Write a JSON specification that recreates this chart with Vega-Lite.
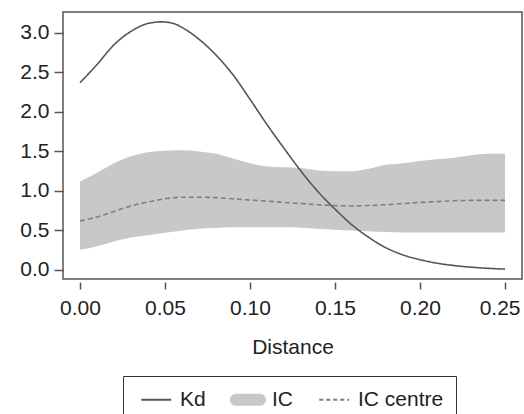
{
  "$schema": "https://vega.github.io/schema/vega-lite/v6.json",
  "width": 459,
  "height": 267,
  "autosize": "none",
  "padding": {"left": 63, "top": 12, "right": 2, "bottom": 135},
  "config": {
    "view": {"stroke": "#555555", "strokeWidth": 1.5},
    "font": "Liberation Sans",
    "axis": {"labelFont": "Liberation Sans", "titleFont": "Liberation Sans", "labelFontSize": 21, "titleFontSize": 21, "titleFontWeight": "normal", "labelColor": "#222222", "titleColor": "#222222", "tickColor": "#555555", "tickWidth": 1.5, "domain": false, "grid": false}
  },
  "datasets": {
    "band": [
      {"d": 0.00, "lo": 0.255, "hi": 1.12, "series": "IC"},
      {"d": 0.01, "lo": 0.30, "hi": 1.23, "series": "IC"},
      {"d": 0.02, "lo": 0.36, "hi": 1.35, "series": "IC"},
      {"d": 0.03, "lo": 0.41, "hi": 1.44, "series": "IC"},
      {"d": 0.04, "lo": 0.44, "hi": 1.49, "series": "IC"},
      {"d": 0.05, "lo": 0.47, "hi": 1.51, "series": "IC"},
      {"d": 0.06, "lo": 0.50, "hi": 1.515, "series": "IC"},
      {"d": 0.07, "lo": 0.52, "hi": 1.50, "series": "IC"},
      {"d": 0.08, "lo": 0.53, "hi": 1.47, "series": "IC"},
      {"d": 0.09, "lo": 0.54, "hi": 1.41, "series": "IC"},
      {"d": 0.10, "lo": 0.54, "hi": 1.35, "series": "IC"},
      {"d": 0.11, "lo": 0.54, "hi": 1.31, "series": "IC"},
      {"d": 0.12, "lo": 0.54, "hi": 1.30, "series": "IC"},
      {"d": 0.13, "lo": 0.535, "hi": 1.29, "series": "IC"},
      {"d": 0.14, "lo": 0.52, "hi": 1.26, "series": "IC"},
      {"d": 0.15, "lo": 0.51, "hi": 1.25, "series": "IC"},
      {"d": 0.16, "lo": 0.50, "hi": 1.25, "series": "IC"},
      {"d": 0.17, "lo": 0.49, "hi": 1.28, "series": "IC"},
      {"d": 0.18, "lo": 0.48, "hi": 1.33, "series": "IC"},
      {"d": 0.19, "lo": 0.475, "hi": 1.35, "series": "IC"},
      {"d": 0.20, "lo": 0.475, "hi": 1.38, "series": "IC"},
      {"d": 0.21, "lo": 0.475, "hi": 1.40, "series": "IC"},
      {"d": 0.22, "lo": 0.475, "hi": 1.42, "series": "IC"},
      {"d": 0.23, "lo": 0.475, "hi": 1.45, "series": "IC"},
      {"d": 0.24, "lo": 0.475, "hi": 1.47, "series": "IC"},
      {"d": 0.25, "lo": 0.475, "hi": 1.47, "series": "IC"}
    ],
    "lines": [
      {"d": 0.000, "value": 2.37, "series": "Kd"},
      {"d": 0.010, "value": 2.60, "series": "Kd"},
      {"d": 0.020, "value": 2.85, "series": "Kd"},
      {"d": 0.030, "value": 3.02, "series": "Kd"},
      {"d": 0.040, "value": 3.12, "series": "Kd"},
      {"d": 0.048, "value": 3.14, "series": "Kd"},
      {"d": 0.055, "value": 3.12, "series": "Kd"},
      {"d": 0.060, "value": 3.07, "series": "Kd"},
      {"d": 0.070, "value": 2.92, "series": "Kd"},
      {"d": 0.080, "value": 2.72, "series": "Kd"},
      {"d": 0.090, "value": 2.47, "series": "Kd"},
      {"d": 0.100, "value": 2.16, "series": "Kd"},
      {"d": 0.110, "value": 1.84, "series": "Kd"},
      {"d": 0.120, "value": 1.54, "series": "Kd"},
      {"d": 0.130, "value": 1.25, "series": "Kd"},
      {"d": 0.140, "value": 0.99, "series": "Kd"},
      {"d": 0.150, "value": 0.77, "series": "Kd"},
      {"d": 0.160, "value": 0.57, "series": "Kd"},
      {"d": 0.170, "value": 0.41, "series": "Kd"},
      {"d": 0.180, "value": 0.28, "series": "Kd"},
      {"d": 0.190, "value": 0.19, "series": "Kd"},
      {"d": 0.200, "value": 0.13, "series": "Kd"},
      {"d": 0.210, "value": 0.085, "series": "Kd"},
      {"d": 0.220, "value": 0.055, "series": "Kd"},
      {"d": 0.230, "value": 0.035, "series": "Kd"},
      {"d": 0.240, "value": 0.02, "series": "Kd"},
      {"d": 0.250, "value": 0.01, "series": "Kd"},
      {"d": 0.00, "value": 0.62, "series": "IC centre"},
      {"d": 0.01, "value": 0.67, "series": "IC centre"},
      {"d": 0.02, "value": 0.74, "series": "IC centre"},
      {"d": 0.03, "value": 0.81, "series": "IC centre"},
      {"d": 0.04, "value": 0.86, "series": "IC centre"},
      {"d": 0.05, "value": 0.90, "series": "IC centre"},
      {"d": 0.06, "value": 0.92, "series": "IC centre"},
      {"d": 0.07, "value": 0.92, "series": "IC centre"},
      {"d": 0.08, "value": 0.915, "series": "IC centre"},
      {"d": 0.09, "value": 0.90, "series": "IC centre"},
      {"d": 0.10, "value": 0.885, "series": "IC centre"},
      {"d": 0.11, "value": 0.87, "series": "IC centre"},
      {"d": 0.12, "value": 0.855, "series": "IC centre"},
      {"d": 0.13, "value": 0.84, "series": "IC centre"},
      {"d": 0.14, "value": 0.825, "series": "IC centre"},
      {"d": 0.15, "value": 0.815, "series": "IC centre"},
      {"d": 0.16, "value": 0.81, "series": "IC centre"},
      {"d": 0.17, "value": 0.815, "series": "IC centre"},
      {"d": 0.18, "value": 0.825, "series": "IC centre"},
      {"d": 0.19, "value": 0.84, "series": "IC centre"},
      {"d": 0.20, "value": 0.855, "series": "IC centre"},
      {"d": 0.21, "value": 0.865, "series": "IC centre"},
      {"d": 0.22, "value": 0.875, "series": "IC centre"},
      {"d": 0.23, "value": 0.88, "series": "IC centre"},
      {"d": 0.24, "value": 0.88, "series": "IC centre"},
      {"d": 0.25, "value": 0.88, "series": "IC centre"}
    ]
  },
  "encoding": {
    "x": {"field": "d", "type": "quantitative", "scale": {"domain": [-0.01, 0.26], "nice": false, "zero": false},
          "axis": {"values": [0, 0.05, 0.1, 0.15, 0.2, 0.25], "format": ".2f", "tickSize": 7, "offset": 3, "labelPadding": 8,
                   "labelAlign": {"condition": {"test": "datum.value > 0.24", "value": "right"}, "value": "center"},
                   "labelOffset": {"condition": {"test": "datum.value > 0.24", "value": 15}, "value": 0},
                   "title": "Distance", "titlePadding": 18}},
    "color": {"field": "series", "type": "nominal",
      "scale": {"domain": ["Kd", "IC", "IC centre"], "range": ["#555555", "#c8c8c8", "#808080"]},
      "legend": {
        "orient": "none", "legendX": 60, "legendY": 364, "direction": "horizontal", "title": null,
        "strokeColor": "#333333", "padding": 12,
        "labelFont": "Liberation Sans", "labelFontSize": 21, "labelColor": "#222222",
        "symbolType": "stroke", "symbolSize": 441, "symbolStrokeWidth": 2, "labelOffset": 22, "columnPadding": 20,
        "encode": {
          "symbols": {
            "update": {
              "shape": {"signal": "datum.value === 'IC' ? 'M-0.24,-0.48L2.04,-0.48A0.48,0.48,0,0,1,2.04,0.48L-0.24,0.48A0.48,0.48,0,0,1,-0.24,-0.48Z' : 'M-0.5,0L2.35,0'"},
              "fill": {"signal": "datum.value === 'IC' ? '#c8c8c8' : 'transparent'"},
              "stroke": {"signal": "datum.value === 'Kd' ? '#555555' : (datum.value === 'IC centre' ? '#808080' : 'transparent')"},
              "strokeDash": {"signal": "datum.value === 'IC centre' ? [4, 3] : [1, 0]"},
              "strokeWidth": {"value": 2},
              "opacity": {"value": 1}
            }
          }
        }
      }
    }
  },
  "layer": [
    {
      "data": {"name": "band"},
      "mark": {"type": "area", "interpolate": "monotone", "opacity": 1},
      "encoding": {
        "y": {"field": "lo", "type": "quantitative", "scale": {"domain": [-0.115, 3.265], "nice": false, "zero": false},
              "axis": {"values": [0, 0.5, 1, 1.5, 2, 2.5, 3], "format": ".1f", "tickSize": 9, "labelPadding": 5, "title": null}},
        "y2": {"field": "hi"}
      }
    },
    {
      "data": {"name": "lines"},
      "mark": {"type": "line", "interpolate": "monotone", "strokeWidth": 1.6},
      "encoding": {
        "y": {"field": "value", "type": "quantitative"},
        "strokeDash": {"field": "series", "type": "nominal", "scale": {"domain": ["Kd", "IC centre"], "range": [[1, 0], [5, 3]]}, "legend": null},
        "order": {"field": "d"}
      }
    }
  ]
}
